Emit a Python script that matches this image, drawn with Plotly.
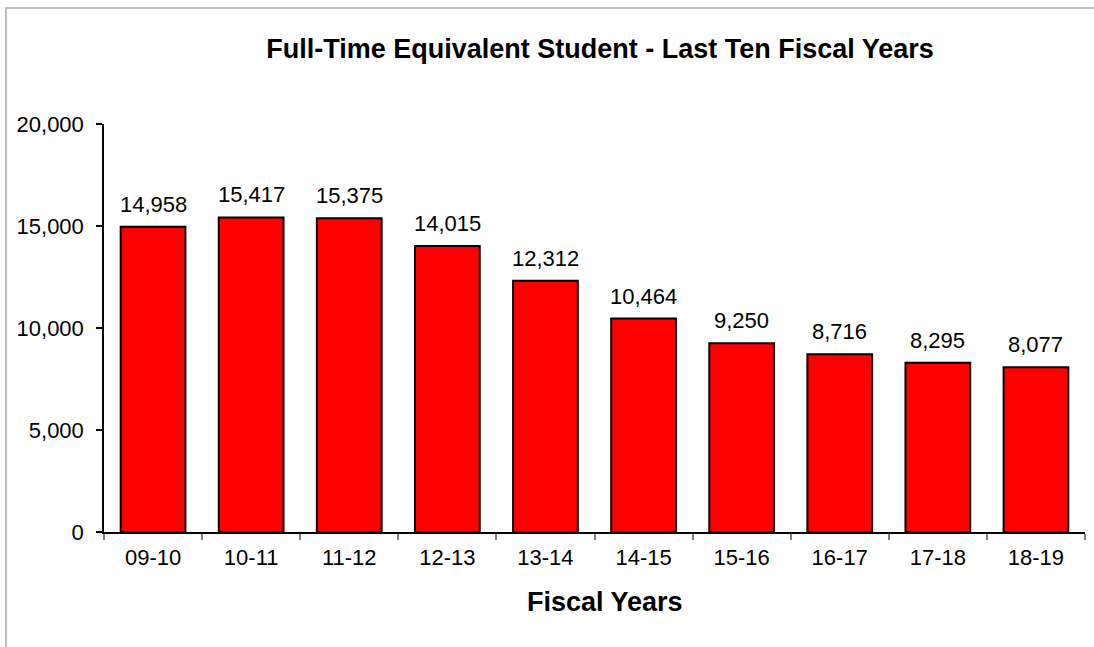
import plotly.graph_objects as go

categories = ["09-10", "10-11", "11-12", "12-13", "13-14", "14-15", "15-16", "16-17", "17-18", "18-19"]
fte_values = [14958, 15417, 15375, 14015, 12312, 10464, 9250, 8716, 8295, 8077]
y_tick_values = [0, 5000, 10000, 15000, 20000]
y_tick_labels = ["0", "5,000", "10,000", "15,000", "20,000"]

W, H = 1094, 647
L, R, T, B = 104, 9, 124, 115
plot_w = W - L - R
plot_h = H - T - B

FONT = "Liberation Sans, Arial, sans-serif"

fig = go.Figure()
fig.add_trace(go.Bar(
    x=categories,
    y=fte_values,
    marker=dict(color="#FF0000", line=dict(color="#000000", width=2)),
    width=0.66,
    hoverinfo="x+y",
))

annotations = []
for c, v in zip(categories, fte_values):
    annotations.append(dict(
        x=c, y=v, xref="x", yref="y",
        text=f"{v:,}", showarrow=False,
        yanchor="bottom", yshift=8,
        font=dict(family=FONT, size=22, color="#000000"),
    ))

annotations.append(dict(
    x=(605 - L) / plot_w, y=(H - B - 602) / plot_h, xref="paper", yref="paper",
    text="<b>Fiscal Years</b>", showarrow=False,
    xanchor="center", yanchor="middle",
    font=dict(family=FONT, size=27, color="#000000"),
))

fig.update_layout(
    width=W, height=H,
    margin=dict(l=L, r=R, t=T, b=B, pad=0),
    paper_bgcolor="white",
    plot_bgcolor="white",
    showlegend=False,
    title=dict(
        text="<b>Full-Time Equivalent Student - Last Ten Fiscal Years</b>",
        x=600 / W, xanchor="center",
        y=1 - 49 / H, yanchor="middle",
        font=dict(family=FONT, size=27, color="#000000"),
    ),
    annotations=annotations,
    shapes=[dict(
        type="rect", xref="paper", yref="paper",
        x0=(6 - L) / plot_w, x1=1.3,
        y0=-0.6, y1=(H - B - 8) / plot_h,
        line=dict(color="#A6A6A6", width=1.5),
        fillcolor="rgba(0,0,0,0)",
        layer="below",
    )],
    xaxis=dict(
        type="category",
        showline=True, linecolor="#000000", linewidth=1.5,
        ticks="outside", ticklen=6, tickcolor="#808080", tickwidth=1.5,
        tickson="boundaries",
        tickfont=dict(family=FONT, size=22, color="#000000"),
        ticklabelstandoff=5,
        showgrid=False, zeroline=False,
        range=[-0.5, 9.5],
    ),
    yaxis=dict(
        range=[0, 20000],
        tickvals=y_tick_values, ticktext=y_tick_labels,
        showline=True, linecolor="#000000", linewidth=1.5,
        ticks="outside", ticklen=6, tickcolor="#000000", tickwidth=1.5,
        tickfont=dict(family=FONT, size=22, color="#000000"),
        ticklabelstandoff=8,
        showgrid=False, zeroline=False,
    ),
)

fig.write_html("out.html")
